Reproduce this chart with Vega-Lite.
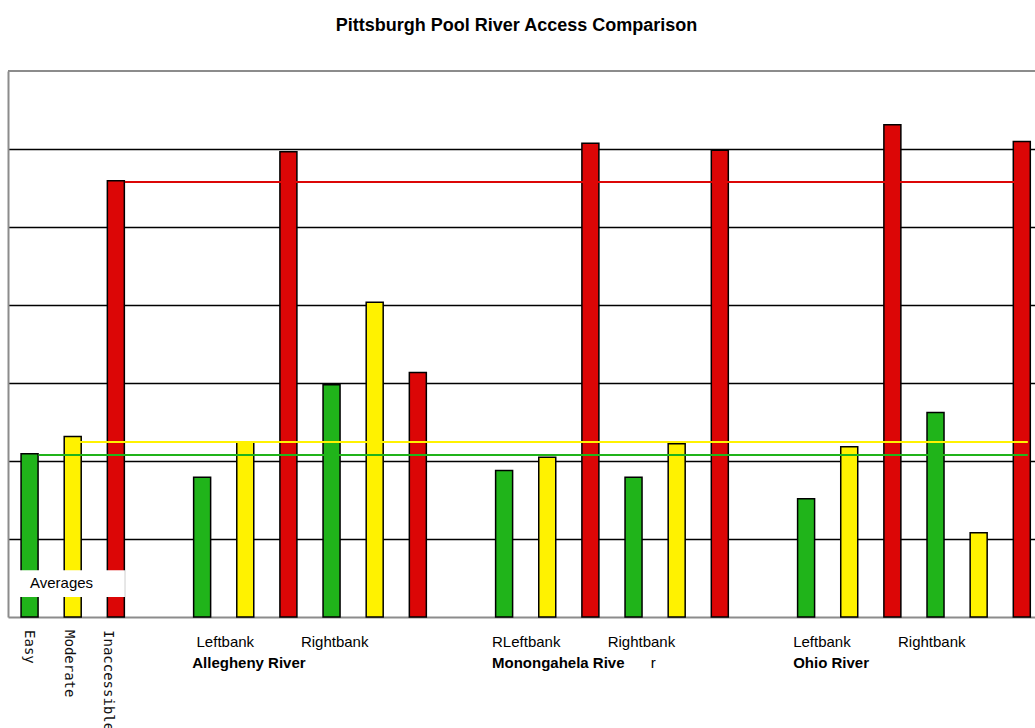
{
  "$schema": "https://vega.github.io/schema/vega-lite/v6.json",
  "width": 1027,
  "height": 546,
  "autosize": {"type": "none"},
  "padding": {"left": 8, "top": 71, "right": 0, "bottom": 111},
  "background": "#ffffff",
  "title": {
    "text": "Pittsburgh Pool River Access Comparison",
    "font": "Liberation Sans",
    "fontSize": 18,
    "fontWeight": "bold",
    "color": "#000000",
    "offset": 35,
    "dx": -5
  },
  "config": {"view": {"stroke": null}, "font": "Liberation Sans"},
  "datasets": {
    "bars": [
      {"slot": 0, "access": "Easy", "pct": 20.92},
      {"slot": 1, "access": "Moderate", "pct": 23.14},
      {"slot": 2, "access": "Inaccessible", "pct": 55.92},
      {"slot": 4, "access": "Easy", "pct": 17.92},
      {"slot": 5, "access": "Moderate", "pct": 22.46},
      {"slot": 6, "access": "Inaccessible", "pct": 59.64},
      {"slot": 7, "access": "Easy", "pct": 29.77},
      {"slot": 8, "access": "Moderate", "pct": 40.36},
      {"slot": 9, "access": "Inaccessible", "pct": 31.35},
      {"slot": 11, "access": "Easy", "pct": 18.78},
      {"slot": 12, "access": "Moderate", "pct": 20.49},
      {"slot": 13, "access": "Inaccessible", "pct": 60.74},
      {"slot": 14, "access": "Easy", "pct": 17.92},
      {"slot": 15, "access": "Moderate", "pct": 22.21},
      {"slot": 16, "access": "Inaccessible", "pct": 59.85},
      {"slot": 18, "access": "Easy", "pct": 15.15},
      {"slot": 19, "access": "Moderate", "pct": 21.82},
      {"slot": 20, "access": "Inaccessible", "pct": 63.10},
      {"slot": 21, "access": "Easy", "pct": 26.22},
      {"slot": 22, "access": "Moderate", "pct": 10.79},
      {"slot": 23, "access": "Inaccessible", "pct": 60.96}
    ],
    "averages": [
      {"access": "Easy", "from": 0.21, "to": 23.14, "pct": 20.77},
      {"access": "Moderate", "from": 1.0, "to": 23.14, "pct": 22.44},
      {"access": "Inaccessible", "from": 2.21, "to": 23.14, "pct": 55.77}
    ],
    "bankLabels": [
      {"pos": 3.87, "level": -3.2, "label": "Leftbank"},
      {"pos": 6.29, "level": -3.2, "label": "Rightbank"},
      {"pos": 10.72, "level": -3.2, "label": "RLeftbank"},
      {"pos": 13.4, "level": -3.2, "label": "Rightbank"},
      {"pos": 17.7, "level": -3.2, "label": "Leftbank"},
      {"pos": 20.13, "level": -3.2, "label": "Rightbank"},
      {"pos": 14.4, "level": -5.9, "label": "r"}
    ],
    "riverLabels": [
      {"pos": 3.77, "level": -5.9, "label": "Allegheny River"},
      {"pos": 10.72, "level": -5.9, "label": "Monongahela Rive"},
      {"pos": 17.7, "level": -5.9, "label": "Ohio River"}
    ],
    "accessLabels": [
      {"pos": -0.02, "level": -1.67, "label": "Easy"},
      {"pos": 0.91, "level": -1.67, "label": "Moderate"},
      {"pos": 1.82, "level": -1.67, "label": "Inaccessible"}
    ],
    "legendBox": [
      {"x0": -0.407, "x1": 2.21, "y0": 2.56, "y1": 6.0, "tx": 0.01, "ty": 4.3, "label": "Averages"}
    ],
    "frameTop": [{"pct": 70}]
  },
  "layer": [
    {
      "data": {"name": "bars"},
      "mark": {"type": "bar", "width": 17, "stroke": "#000000", "strokeWidth": 1.5},
      "encoding": {
        "x": {
          "field": "slot",
          "type": "quantitative",
          "scale": {"domain": [-0.5, 23.306], "nice": false, "zero": false, "padding": 0},
          "axis": {"labels": false, "ticks": false, "grid": false, "title": null, "domainColor": "#8c8c8c", "domainWidth": 2}
        },
        "y": {
          "field": "pct",
          "type": "quantitative",
          "scale": {"domain": [0, 70], "nice": false},
          "axis": {
            "values": [10, 20, 30, 40, 50, 60],
            "labels": false,
            "ticks": false,
            "title": null,
            "grid": true,
            "gridColor": "#000000",
            "gridWidth": 1.6,
            "gridOpacity": 1,
            "domainColor": "#8c8c8c",
            "domainWidth": 2
          }
        },
        "color": {
          "field": "access",
          "type": "nominal",
          "scale": {"domain": ["Easy", "Moderate", "Inaccessible"], "range": ["#20b41a", "#fff200", "#dc0606"]},
          "legend": null
        }
      }
    },
    {
      "data": {"name": "averages"},
      "mark": {"type": "rule", "strokeWidth": 2},
      "encoding": {
        "x": {"field": "from", "type": "quantitative"},
        "x2": {"field": "to"},
        "y": {"field": "pct", "type": "quantitative"},
        "color": {
          "field": "access",
          "type": "nominal",
          "scale": {"domain": ["Easy", "Moderate", "Inaccessible"], "range": ["#3cba3c", "#fff000", "#ff1010"]},
          "legend": null
        }
      }
    },
    {
      "data": {"name": "frameTop"},
      "mark": {"type": "rule", "color": "#8c8c8c", "strokeWidth": 2},
      "encoding": {"y": {"field": "pct", "type": "quantitative"}}
    },
    {
      "data": {"name": "legendBox"},
      "mark": {"type": "rect", "fill": "#ffffff", "stroke": null},
      "encoding": {
        "x": {"field": "x0", "type": "quantitative"},
        "x2": {"field": "x1"},
        "y": {"field": "y0", "type": "quantitative"},
        "y2": {"field": "y1"}
      }
    },
    {
      "data": {"name": "legendBox"},
      "mark": {"type": "text", "align": "left", "baseline": "middle", "fontSize": 15, "color": "#000000"},
      "encoding": {
        "x": {"field": "tx", "type": "quantitative"},
        "y": {"field": "ty", "type": "quantitative"},
        "text": {"field": "label"}
      }
    },
    {
      "data": {"name": "bankLabels"},
      "mark": {"type": "text", "align": "left", "baseline": "middle", "fontSize": 15, "color": "#000000"},
      "encoding": {
        "x": {"field": "pos", "type": "quantitative"},
        "y": {"field": "level", "type": "quantitative"},
        "text": {"field": "label"}
      }
    },
    {
      "data": {"name": "riverLabels"},
      "mark": {"type": "text", "align": "left", "baseline": "middle", "fontSize": 15, "fontWeight": "bold", "color": "#000000"},
      "encoding": {
        "x": {"field": "pos", "type": "quantitative"},
        "y": {"field": "level", "type": "quantitative"},
        "text": {"field": "label"}
      }
    },
    {
      "data": {"name": "accessLabels"},
      "mark": {"type": "text", "align": "left", "baseline": "middle", "angle": 90, "font": "DejaVu Sans Mono", "fontSize": 14, "color": "#111111"},
      "encoding": {
        "x": {"field": "pos", "type": "quantitative"},
        "y": {"field": "level", "type": "quantitative"},
        "text": {"field": "label"}
      }
    }
  ]
}
